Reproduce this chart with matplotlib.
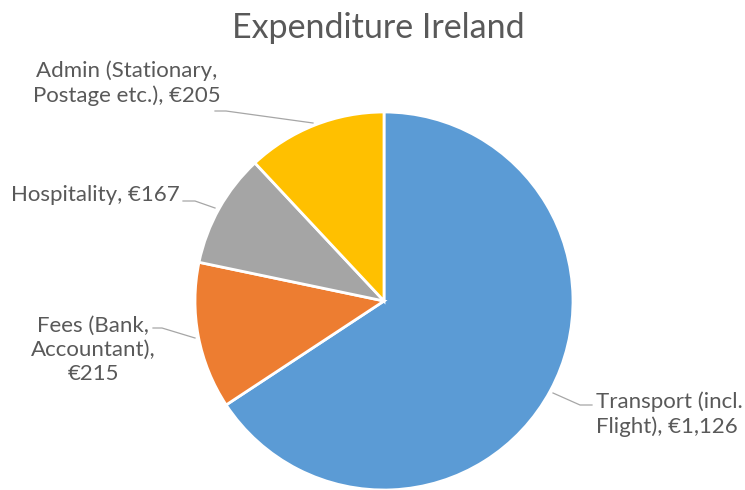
import matplotlib.pyplot as plt

# data
labels = ["Transport (incl.\nFlight), €1,126", "Fees (Bank,\nAccountant),\n€215",
          "Hospitality, €167", "Admin (Stationary,\nPostage etc.), €205"]
values = [1126, 215, 167, 205]
colors = ["#5B9BD5", "#ED7D31", "#A5A5A5", "#FFC000"]

plt.rcParams['font.family'] = ['Lato', 'DejaVu Sans']

W, H = 745, 490
fig = plt.figure(figsize=(W / 100, H / 100), dpi=100)
ax = fig.add_axes([0, 0, 1, 1])

cx, cy, r = 384, H - 301, 189
wedges, _ = ax.pie(values, colors=colors, startangle=90, counterclock=False,
                   center=(cx, cy), radius=r, frame=True,
                   wedgeprops=dict(edgecolor='white', linewidth=2))
ax.set_xlim(0, W)
ax.set_ylim(0, H)
ax.set_aspect('equal')
ax.axis('off')

tc = "#595959"
lc = "#A6A6A6"
# label positions (x, y in pixels from top), alignment, leader line points
lab = [
    (596, 414, 'left', [(553, 393), (580, 405), (592, 405)]),
    (93, 350, 'center', [(195, 338), (162, 328), (153, 328)]),
    (95, 195, 'center', [(215, 208), (195, 201), (183, 201)]),
    (127, 83, 'center', [(313, 123), (226, 111), (215, 111)]),
]
for (x, y, ha, pts), t in zip(lab, labels):
    ax.text(x, H - y, t, ha=ha, va='center', fontsize=16, color=tc,
            linespacing=1.27)
    ax.plot([p[0] for p in pts], [H - p[1] for p in pts], color=lc, lw=0.9)

ax.text(378, H - 28, "Expenditure Ireland", ha='center', va='center',
        fontsize=24.5, color=tc)

fig.savefig("out.png", dpi=100)
